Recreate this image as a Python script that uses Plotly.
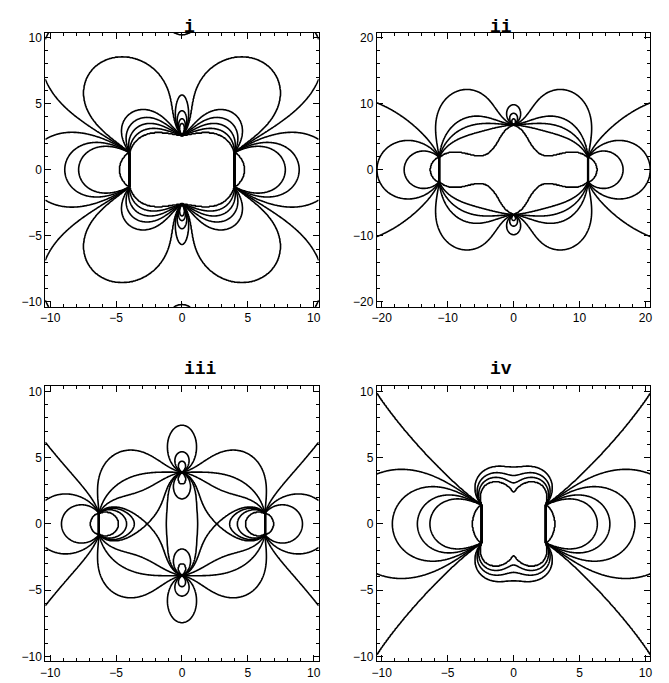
import numpy as np
import plotly.graph_objects as go

W, H = 669, 683

TITLES = ["i", "ii", "iii", "iv"]
SPAN = [10, 20, 10, 10]
MAJOR = [5, 10, 5, 5]
MINOR = [1, 2, 1, 1]

# singular points: outer pairs at (+-X, +-Y), axial points at (0, +-H)
PAIR_X = [4.0, 11.3, 6.3, 2.45]
PAIR_Y = [1.3, 1.85, 0.8, 1.45]
AXIS_H = [2.6, 6.8, 3.9, 1.8]
# strength and core size of the axial terms
STRENGTH = [4.5, 2.5, 1.5, 2.9]
CORE = [2.2, 1.5, 1.0, 2.1]

# points that the drawn contour lines pass through (one line per point)
THRU_X_I = [-7.0, -7.85, -8.9, -10.0, -10.0, -3.0, -2.5, -2.5, -2.5, -2.5, -2.5]
THRU_Y_I = [0.0, 0.0, 0.0, 2.5, 6.1, 8.2, 4.5, 3.95, 3.5, 3.1, 2.75]

THRU_X_II = [-15.3, -16.6, -20.0, -20.0, -7.7, -5.5, -5.5, -5.5, -3.0]
THRU_Y_II = [0.0, 0.0, 2.4, 9.8, 12.1, 8.1, 6.9, 5.65, 3.4]

THRU_X_III = [-8.3, -9.15, -4.8, -4.2, -2.7, -10.0, -10.0, -4.5, -2.5, -3.5, -1.2]
THRU_Y_III = [0.0, 0.0, 0.0, 0.0, 0.0, 5.7, 2.0, 5.5, 3.85, 2.35, 0.0]

THRU_X_IV = [-5.66, -6.35, -7.3, -9.2, -10.0, -10.0, 0.0, -1.9, -1.9, -1.9]
THRU_Y_IV = [0.0, 0.0, 0.0, 0.0, 9.3, 3.9, 2.45, 4.2, 3.75, 3.4]

THRU = [(THRU_X_I, THRU_Y_I), (THRU_X_II, THRU_Y_II),
        (THRU_X_III, THRU_Y_III), (THRU_X_IV, THRU_Y_IV)]

# plot frames in pixels: (left, right, top, bottom)
FRAMES = [(40.7, 317.0, 30.7, 306.7), (375.7, 652.3, 30.7, 306.7),
          (40.7, 317.0, 386.7, 663.3), (375.7, 652.3, 386.7, 663.3)]


def field(x, y, px, py, h, p, s0):
    z = x + 1j * y
    a, b = -px + 1j * py, -px - 1j * py
    c, d = px + 1j * py, px - 1j * py
    psi = np.angle((z - a) / (z - b)) + np.angle((z - d) / (z - c))
    re = np.sqrt(x ** 2 + (y - h) ** 2)
    rf = np.sqrt(x ** 2 + (y + h) ** 2)
    return psi + p * ((y - h) / (re * (re + s0)) - (y + h) / (rf * (rf + s0)))


fig = go.Figure()
for k in range(4):
    lim = SPAN[k] * 1.038
    xs = np.linspace(-lim, lim, 402)
    X, Y = np.meshgrid(xs, xs)
    args = (PAIR_X[k], PAIR_Y[k], AXIS_H[k], STRENGTH[k], CORE[k])
    psi = field(X, Y, *args)

    tx, ty = THRU[k]
    levels = np.sort(field(np.array(tx, float), np.array(ty, float), *args))
    n = len(levels)
    # map the chosen levels onto 0..n-1 so one evenly spaced contour set draws them
    xp = np.concatenate([[levels[0] - 1e3], levels, [levels[-1] + 1e3]])
    fp = np.concatenate([[-0.5], np.arange(n), [n - 0.5]])
    g = np.round(np.interp(psi, xp, fp), 3)

    ax = "" if k == 0 else str(k + 1)
    fig.add_trace(go.Contour(
        x=xs, y=xs, z=g, xaxis="x" + ax, yaxis="y" + ax,
        autocontour=False,
        contours=dict(start=0, end=n - 1, size=1, coloring="none"),
        line=dict(color="black", width=1.6, smoothing=0),
        showscale=False, hoverinfo="skip"))

    l, r, t, b = FRAMES[k]
    axis_common = dict(
        range=[-lim, lim], showline=True, linecolor="black", linewidth=1,
        mirror="allticks", ticks="inside", ticklen=6, tickwidth=1,
        tickcolor="black", tick0=0, dtick=MAJOR[k],
        minor=dict(ticks="inside", ticklen=3, dtick=MINOR[k], tickcolor="black"),
        showgrid=False, zeroline=False,
        tickfont=dict(family="Liberation Sans", size=12, color="black"))
    fig.update_layout(**{
        "xaxis" + ax: dict(domain=[l / W, r / W], anchor="y" + ax, **axis_common),
        "yaxis" + ax: dict(domain=[1 - b / H, 1 - t / H], anchor="x" + ax,
                           **axis_common),
    })
    fig.add_annotation(
        x=(l + r) / 2 / W, y=1 - (t - 17.5) / H, xref="paper", yref="paper",
        text="<b>%s</b>" % TITLES[k], showarrow=False,
        font=dict(family="Liberation Mono", size=18, color="black"))

fig.update_layout(width=W, height=H, margin=dict(l=0, r=0, t=0, b=0),
                  paper_bgcolor="white", plot_bgcolor="white", showlegend=False)
fig.write_html("out.html")
